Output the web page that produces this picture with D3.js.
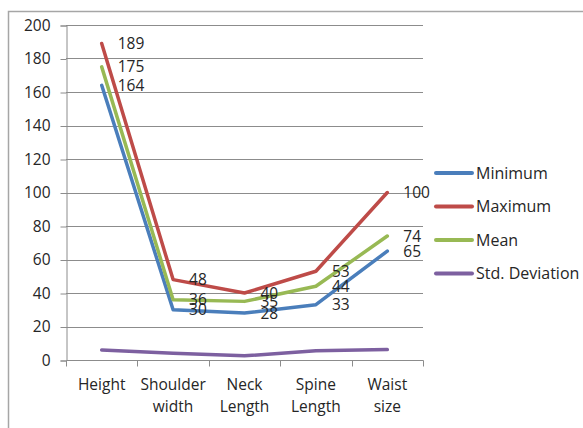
<!DOCTYPE html>
<html>
<head>
<meta charset="utf-8">
<script src="https://cdn.jsdelivr.net/npm/d3@7"></script>
<style>
  html, body { margin: 0; padding: 0; background: #fff; }
  svg { display: block; }
  text { font-family: "Open Sans", "Noto Sans", sans-serif; fill: #262626; }
</style>
</head>
<body>
<svg id="chart" width="583" height="428"></svg>
<script>
// Body measurement summary
const categories = [["Height"], ["Shoulder", "width"], ["Neck", "Length"], ["Spine", "Length"], ["Waist", "size"]];
const seriesNames = ["Minimum", "Maximum", "Mean", "Std. Deviation"];
const minimum = [164, 30, 28, 33, 65];
const maximum = [189, 48, 40, 53, 100];
const mean = [175, 36, 35, 44, 74];
const stdDeviation = [6, 4, 2.5, 5.5, 6.2];
const yTicks = [0, 20, 40, 60, 80, 100, 120, 140, 160, 180, 200];
const colors = ["#4a7ebb", "#be4b48", "#98b954", "#7d60a0"];
const labelled = [true, true, true, false];

const series = [minimum, maximum, mean, stdDeviation].map((values, i) => ({
  name: seriesNames[i], values, color: colors[i], labelled: labelled[i]
}));

const svg = d3.select("#chart");
const plot = { left: 66, right: 423, top: 25, bottom: 360 };
const fontSize = "15.5px";

// outer frame
svg.append("path")
  .attr("d", "M8.5,428 V11.5 H583")
  .attr("fill", "none").attr("stroke", "#a6a6a6").attr("stroke-width", 1.5);

const x = d3.scaleBand().domain(d3.range(categories.length)).range([plot.left, plot.right]);
const y = d3.scaleLinear().domain([0, 200]).range([plot.bottom, plot.top]);

// horizontal gridlines
svg.append("g").selectAll("line").data(yTicks.filter(t => t > 0)).join("line")
  .attr("x1", plot.left).attr("x2", plot.right)
  .attr("y1", d => Math.round(y(d)) + 0.5).attr("y2", d => Math.round(y(d)) + 0.5)
  .attr("stroke", "#8c8c8c").attr("stroke-width", 1);

// y axis
const yAxis = svg.append("g").attr("transform", `translate(${plot.left + 0.5},0.5)`)
  .call(d3.axisLeft(y).tickValues(yTicks).tickSize(6).tickPadding(10));
yAxis.select(".domain").attr("stroke", "#8c8c8c");
yAxis.selectAll(".tick line").attr("stroke", "#8c8c8c");
yAxis.selectAll(".tick text").style("font-size", fontSize).style("font-family", null).attr("fill", "#262626");
yAxis.attr("font-family", null);

// x axis
const xAxis = svg.append("g").attr("transform", `translate(0.5,${plot.bottom + 0.5})`);
xAxis.append("line").attr("x1", plot.left).attr("x2", plot.right).attr("stroke", "#8c8c8c");
xAxis.selectAll(".xt").data(d3.range(categories.length + 1)).join("line")
  .attr("class", "xt")
  .attr("x1", i => Math.round(plot.left + i * x.step())).attr("x2", i => Math.round(plot.left + i * x.step()))
  .attr("y1", 0).attr("y2", 6).attr("stroke", "#8c8c8c");

const cx = i => x(i) + x.bandwidth() / 2;

const catLabels = svg.append("g");
categories.forEach((lines, i) => {
  const t = catLabels.append("text").attr("text-anchor", "middle").style("font-size", fontSize);
  lines.forEach((ln, j) => {
    t.append("tspan").attr("x", cx(i)).attr("y", 390 + j * 22).text(ln);
  });
});

// series lines
const line = d3.line().x((d, i) => cx(i)).y(d => y(d));
svg.append("g").selectAll("path").data(series).join("path")
  .attr("d", s => line(s.values))
  .attr("fill", "none").attr("stroke", s => s.color)
  .attr("stroke-width", 3.5).attr("stroke-linejoin", "round").attr("stroke-linecap", "round");

// value labels, placed just right of each point
const labels = svg.append("g");
series.filter(s => s.labelled).forEach(s => {
  labels.selectAll(null).data(s.values).join("text")
    .attr("x", (d, i) => cx(i) + 16)
    .attr("y", d => y(d))
    .attr("dy", "0.36em")
    .style("font-size", fontSize)
    .text(d => d);
});

// legend
const legend = svg.append("g");
series.forEach((s, i) => {
  const ly = 173 + i * 33.5;
  legend.append("line").attr("x1", 436).attr("x2", 472).attr("y1", ly).attr("y2", ly)
    .attr("stroke", s.color).attr("stroke-width", 4).attr("stroke-linecap", "round");
  legend.append("text").attr("x", 476).attr("y", ly).attr("dy", "0.36em")
    .style("font-size", "16px").text(s.name);
});
</script>
</body>
</html>
